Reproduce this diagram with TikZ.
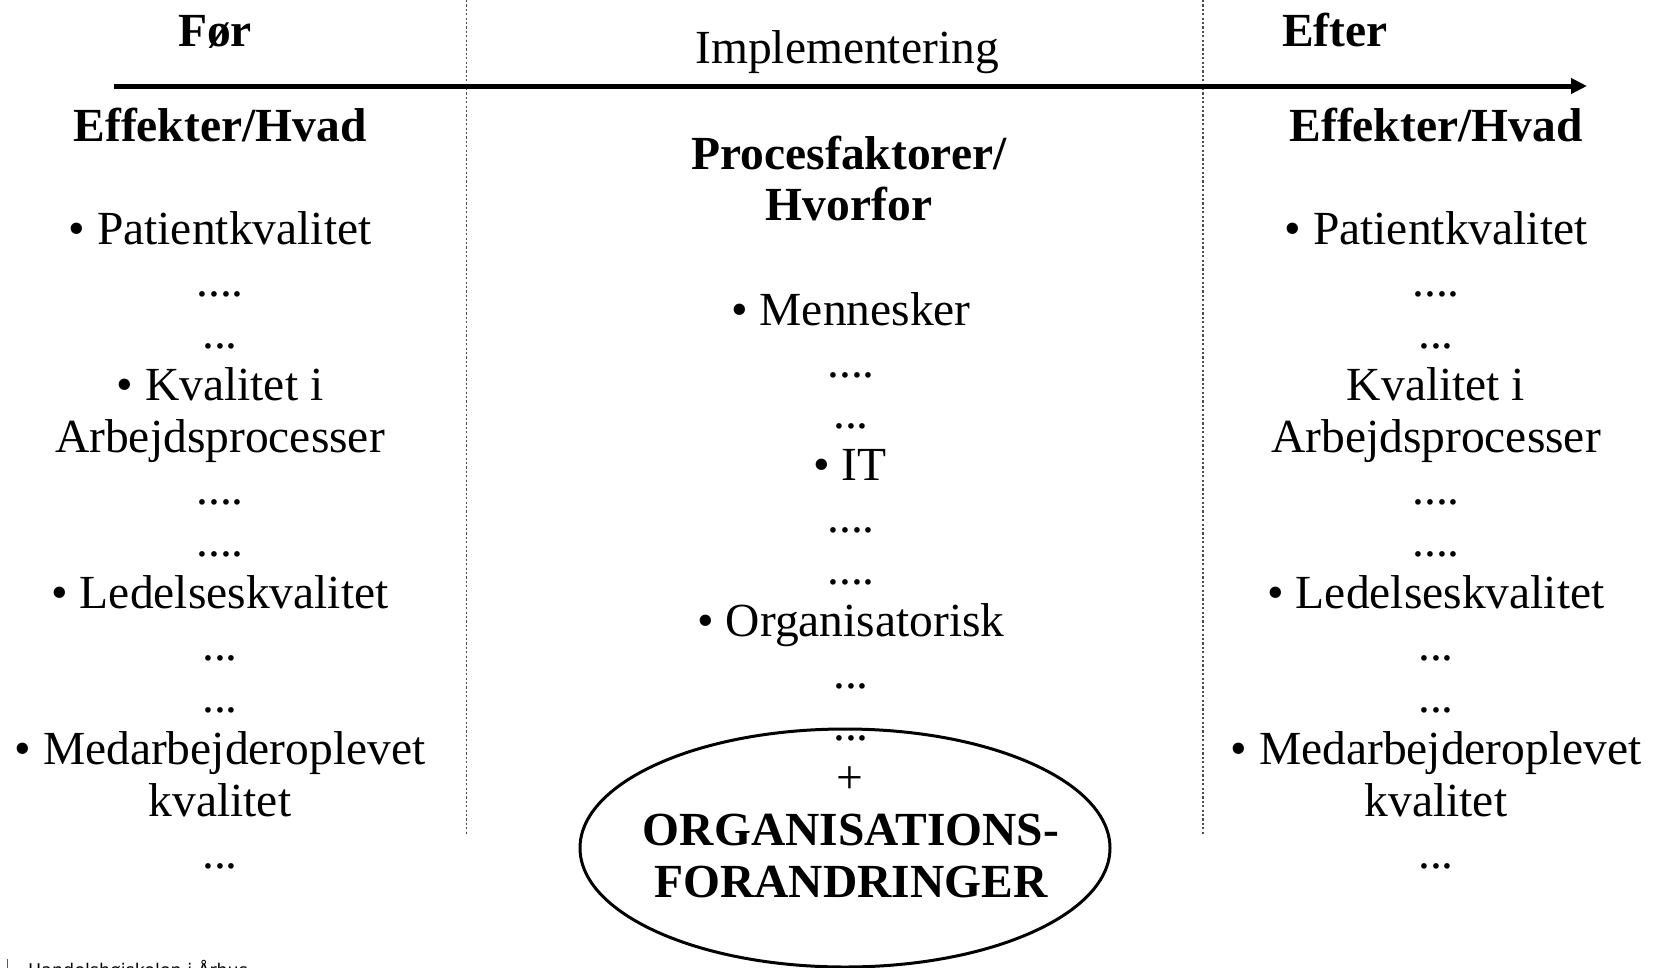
\documentclass[tikz,border=0pt]{standalone}
\usepackage{fontspec}
\setmainfont{Liberation Serif}
\newfontfamily\footfont{DejaVu Sans}
\usetikzlibrary{arrows.meta,shapes.geometric}
\begin{document}
\begin{tikzpicture}[x=1pt,y=-1pt,
  txt/.style={anchor=base,inner sep=0pt,font=\fontsize{47.5}{52}\selectfont},
  bld/.style={anchor=base,inner sep=0pt,font=\fontsize{47.5}{52}\selectfont\bfseries},
  divider/.style={line width=1.6pt,gray!60!black,dash pattern=on 2.2pt off 2.2pt},
  timeline/.style={line width=5pt,-{Triangle[length=16pt,width=15pt]}},
  oval/.style={draw,ellipse,line width=3pt,minimum width=530pt,minimum height=238pt,inner sep=0pt}]
\useasboundingbox (0,0) rectangle (1666,967);
% dividers
\coordinate (d1a) at (466.5,0);   \coordinate (d1b) at (466.5,834);
\coordinate (d2a) at (1203,0);    \coordinate (d2b) at (1203,834);
\draw[divider] (d1a) -- (d1b);
\draw[divider] (d2a) -- (d2b);
% time line
\coordinate (t0) at (114,86);
\coordinate (t1) at (1587,86);
\draw[timeline] (t0) -- (t1);
% headers
\node[bld] (foer) at (215,46) {Før};
\node[txt] (impl) at (847,63) {Implementering};
\node[bld] (efter) at (1335,46) {Efter};
% left column
\node[bld] (lh) at (220,141) {Effekter/Hvad};
\node[txt] (l0) at (220,244) {• Patientkvalitet};
\node[txt] (l1) at (220,296) {....};
\node[txt] (l2) at (220,348) {...};
\node[txt] (l3) at (220,400) {• Kvalitet i};
\node[txt] (l4) at (220,452) {Arbejdsprocesser};
\node[txt] (l5) at (220,504) {....};
\node[txt] (l6) at (220,556) {....};
\node[txt] (l7) at (220,608) {• Ledelseskvalitet};
\node[txt] (l8) at (220,660) {...};
\node[txt] (l9) at (220,712) {...};
\node[txt] (l10) at (220,764) {• Medarbejderoplevet};
\node[txt] (l11) at (220,816) {kvalitet};
\node[txt] (l12) at (220,868) {...};
% middle column
\node[oval] (org) at (845,848) {};
\node[bld] (mh1) at (849,169) {Procesfaktorer/};
\node[bld] (mh2) at (849,220) {Hvorfor};
\node[txt] (m0) at (851,325) {• Mennesker};
\node[txt] (m1) at (851,377) {....};
\node[txt] (m2) at (851,428) {...};
\node[txt] (m3) at (850,480) {• IT};
\node[txt] (m4) at (851,532) {....};
\node[txt] (m5) at (851,584) {....};
\node[txt] (m6) at (851,636) {• Organisatorisk};
\node[txt] (m7) at (851,688) {...};
\node[txt] (m8) at (851,740) {...};
\node[txt] (m9) at (850,793) {+};
\node[bld] (m10) at (851,845) {ORGANISATIONS-};
\node[bld] (m11) at (851,897) {FORANDRINGER};
% right column
\node[bld] (rh) at (1436,141) {Effekter/Hvad};
\node[txt] (r0) at (1436,244) {• Patientkvalitet};
\node[txt] (r1) at (1436,296) {....};
\node[txt] (r2) at (1436,348) {...};
\node[txt] (r3) at (1436,400) {Kvalitet i};
\node[txt] (r4) at (1436,452) {Arbejdsprocesser};
\node[txt] (r5) at (1436,504) {....};
\node[txt] (r6) at (1436,556) {....};
\node[txt] (r7) at (1436,608) {• Ledelseskvalitet};
\node[txt] (r8) at (1436,660) {...};
\node[txt] (r9) at (1436,712) {...};
\node[txt] (r10) at (1436,764) {• Medarbejderoplevet};
\node[txt] (r11) at (1436,816) {kvalitet};
\node[txt] (r12) at (1436,868) {...};
% footer (cut off at the bottom edge, as in the reference)
\coordinate (b0) at (7,959);
\coordinate (b1) at (7,972);
\draw[line width=1pt,gray!70!black] (b0) -- (b1);
\node[anchor=base west,inner sep=0pt,font=\footfont\fontsize{17.5}{20}\selectfont] (foot) at (28,976) {Handelshøjskolen i Århus};
\end{tikzpicture}
\end{document}
